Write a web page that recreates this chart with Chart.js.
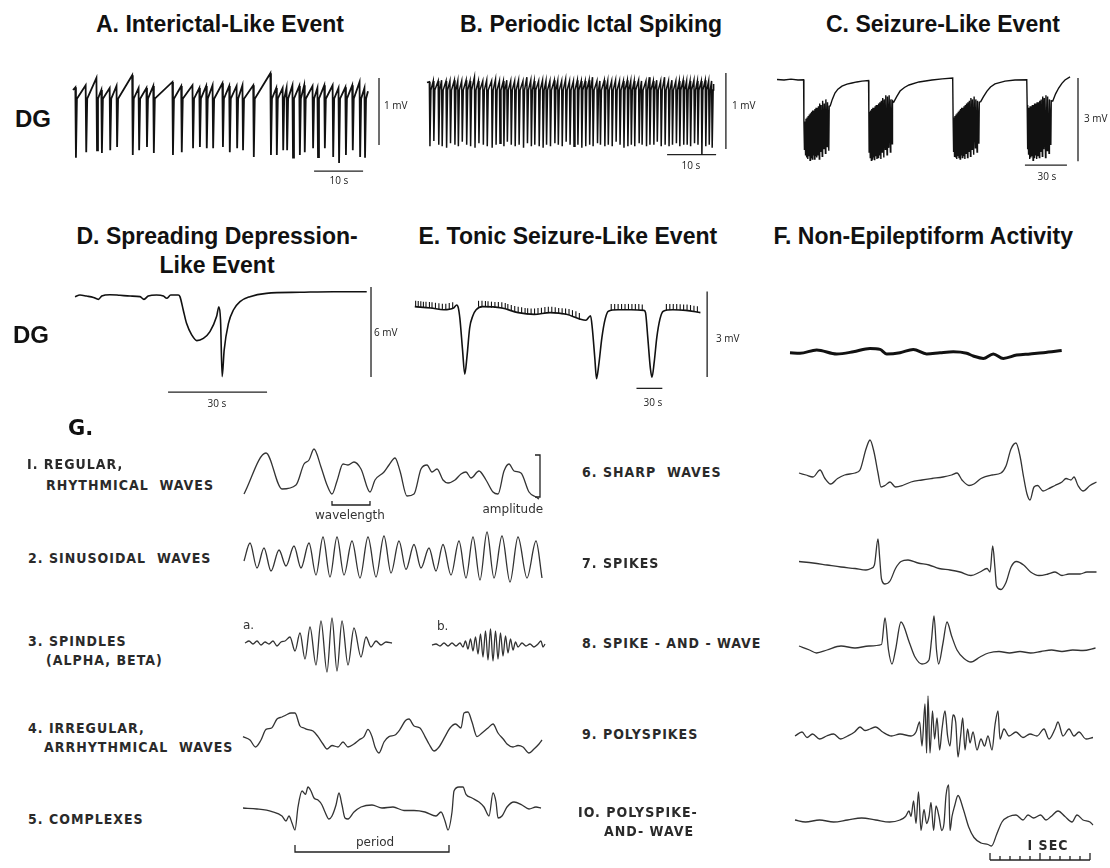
<!DOCTYPE html>
<html>
<head>
<meta charset="utf-8">
<script src="https://cdn.jsdelivr.net/npm/chart.js@4.4.1/dist/chart.umd.min.js"></script>
<style>
  body { margin: 0; background: #fff; width: 1110px; height: 868px; position: relative; overflow: hidden; font-family: "Liberation Sans", Arial, sans-serif; }
  canvas { position: absolute; }
  .t { position: absolute; white-space: pre; line-height: 1; }
  .title { font-weight: bold; font-size: 23px; color: #111; }
  .dg { font-weight: bold; font-size: 24px; color: #111; }
  .gl { font-family: "DejaVu Sans", Verdana, sans-serif; font-weight: bold; font-size: 21px; color: #111; }
  .sb { font-family: "Open Sans", "Liberation Sans", sans-serif; font-size: 10px; color: #222; }
  .gt { font-family: "Liberation Sans Narrow", "DejaVu Sans Condensed", "Liberation Sans", sans-serif; font-weight: bold; font-size: 14px; letter-spacing: 1px; color: #2a2a2a; }
  .ga { font-family: "DejaVu Sans", sans-serif; font-size: 12px; color: #333; }
</style>
</head>
<body>
<script>
// ---------- A. interictal-like event (s, mV) ----------
const aSpikeT = [0.6, 2.7, 4.9, 5.9, 7.6, 9.0, 12.2, 13.5, 15.1, 16.5, 20.4, 22.2, 24.5, 25.9, 27.3, 28.6, 30.6, 32.0, 33.5, 34.7, 36.9, 40.4, 41.6, 42.9, 43.7, 44.9, 46.3, 47.3, 49.0, 50.0, 51.4, 53.1, 54.3, 55.7, 57.1, 58.6, 59.6];
const aSpikeMin = [-1.04, -0.96, -0.93, -0.97, -0.93, -0.88, -1.0, -0.93, -0.88, -0.97, -1.0, -0.96, -0.9, -0.88, -0.9, -0.9, -0.88, -0.96, -0.9, -0.93, -1.03, -1.0, -1.0, -0.93, -0.93, -1.04, -1.0, -0.96, -0.9, -1.03, -0.9, -1.03, -1.12, -1.0, -0.93, -1.03, -1.04];
const aPre = [0.01, 0.04, 0.15, -0.03, 0, 0.03, 0.19, 0, 0, 0.03, 0.09, 0.03, 0.04, 0, 0.03, 0.04, 0.07, 0.03, 0.03, 0.04, 0.04, 0.22, 0, 0, 0, 0.04, 0.03, 0.04, 0.03, 0, 0.04, 0.04, 0, 0.01, 0.04, 0.09, 0];
const aPost = -0.16;

// ---------- B. periodic ictal spiking (s, mV) ----------
const bSpikeT = [0.6, 1.4, 2.4, 3.1, 4.0, 4.8, 5.7, 6.4, 7.2, 8.1, 8.9, 9.8, 10.6, 11.5, 12.3, 13.3, 14.1, 14.9, 15.7, 16.4, 17.2, 18.0, 18.8, 19.7, 20.5, 21.3, 22.0, 22.9, 23.7, 24.4, 25.2, 26.1, 26.8, 27.6, 28.4, 29.2, 30.0, 30.8, 31.6, 32.4, 33.2, 33.9, 34.8, 35.4, 36.3, 37.0, 37.8, 38.6, 39.4, 40.2, 41.0, 41.7, 42.4, 43.3, 43.9, 44.8, 45.5, 46.3, 47.0, 47.8, 48.6, 49.4, 50.1, 50.9, 51.6, 52.4, 53.1, 53.8, 54.6, 55.3, 56.1, 56.9, 57.6, 58.2];
const bSpikeMin = [-0.82, -0.75, -0.8, -0.82, -0.84, -0.78, -0.8, -0.82, -0.76, -0.8, -0.82, -0.84, -0.78, -0.8, -0.82, -0.84, -0.8, -0.78, -0.82, -0.76, -0.8, -0.82, -0.8, -0.84, -0.78, -0.82, -0.8, -0.82, -0.84, -0.8, -0.82, -0.78, -0.8, -0.82, -0.76, -0.8, -0.82, -0.8, -0.84, -0.82, -0.8, -0.82, -0.78, -0.8, -0.82, -0.8, -0.82, -0.76, -0.8, -0.84, -0.82, -0.8, -0.82, -0.78, -0.8, -0.82, -0.8, -0.8, -0.76, -0.82, -0.8, -0.82, -0.8, -0.78, -0.82, -0.8, -0.8, -0.82, -0.78, -0.8, -0.93, -0.82, -0.8, -0.84];
const bPre = [0.03, 0.04, 0.04, 0.05, 0.04, 0.04, 0.05, 0.04, 0.04, 0.05, 0.04, 0.09, 0.04, 0.04, 0.05, 0.04, 0.06, 0.04, 0.04, 0.05, 0.04, 0.04, 0.05, 0.04, 0.09, 0.05, 0.04, 0.04, 0.05, 0.04, 0.04, 0.05, 0.04, 0.04, 0.06, 0.04, 0.04, 0.05, 0.04, 0.04, 0.05, 0.09, 0.04, 0.04, 0.05, 0.04, 0.04, 0.05, 0.04, 0.04, 0.05, 0.04, 0.04, 0.05, 0.04, 0.04, 0.09, 0.04, 0.05, 0.04, 0.09, 0.04, 0.05, 0.04, 0.04, 0.05, 0.04, 0.04, 0.05, 0.04, 0.04, 0.05, 0.04, 0.04];
const bPost = -0.08;

// ---------- C. seizure-like events (s, mV) ----------
const cBaseline = [[0, 0.02], [5, 0], [10, 0.03], [15, 0], [19.0, 0.01]];
const cOnsetT = [19.1, 65.5, 125.7, 178.6];
const cOnsetV = [-1.44, -1.12, -1.37, -0.9];
const cSpikeT = [
  [19.6, 20.4, 21.2, 22.0, 22.8, 23.6, 24.4, 25.2, 26.0, 26.8, 27.6, 28.4, 29.3, 30.2, 31.2, 32.3, 33.5, 34.6, 35.8, 37.0],
  [65.8, 66.6, 67.4, 68.2, 69.0, 69.8, 70.6, 71.4, 72.3, 73.2, 74.2, 75.2, 76.3, 77.4, 78.6, 79.8, 81.0, 82.2],
  [126.0, 126.8, 127.6, 128.4, 129.2, 130.0, 130.8, 131.6, 132.4, 133.3, 134.2, 135.1, 136.1, 137.1, 138.2, 139.3, 140.5, 141.7, 142.9, 144.2],
  [178.9, 179.7, 180.5, 181.3, 182.1, 182.9, 183.7, 184.6, 185.5, 186.4, 187.4, 188.4, 189.5, 190.6, 191.8, 193.0, 194.3, 195.6]
];
const cSpikeMin = [
  [-2.5, -2.7, -2.8, -2.85, -2.75, -2.9, -2.8, -2.85, -2.7, -2.85, -2.75, -2.8, -2.7, -2.85, -2.6, -2.75, -2.5, -2.65, -2.4, -2.55],
  [-2.6, -2.8, -2.9, -2.85, -2.8, -2.9, -2.75, -2.85, -2.8, -2.7, -2.85, -2.6, -2.8, -2.5, -2.7, -2.45, -2.6, -2.3],
  [-2.6, -2.75, -2.8, -2.85, -2.75, -2.8, -2.85, -2.7, -2.8, -2.75, -2.85, -2.65, -2.8, -2.6, -2.75, -2.5, -2.7, -2.45, -2.6, -2.3],
  [-2.5, -2.7, -2.85, -2.8, -2.75, -2.9, -2.8, -2.7, -2.85, -2.75, -2.8, -2.6, -2.75, -2.5, -2.8, -2.55, -2.65, -2.35]
];
const cSpikeTop = [
  [-1.5, -1.4, -1.35, -1.3, -1.25, -1.2, -1.15, -1.1, -1.1, -1.05, -1.0, -1.0, -0.95, -0.85, -0.9, -0.75, -0.85, -0.7, -0.8, -0.95],
  [-1.15, -1.1, -1.05, -1.0, -1.0, -0.95, -0.9, -0.9, -0.85, -0.8, -0.75, -0.65, -0.7, -0.55, -0.6, -0.55, -0.7, -0.75],
  [-1.35, -1.3, -1.25, -1.2, -1.15, -1.1, -1.05, -1.0, -1.0, -0.95, -0.9, -0.85, -0.8, -0.75, -0.65, -0.7, -0.6, -0.7, -0.75, -0.8],
  [-1.0, -1.0, -0.95, -0.95, -0.9, -0.9, -0.85, -0.85, -0.8, -0.8, -0.75, -0.7, -0.6, -0.65, -0.55, -0.6, -0.7, -0.75]
];
const cRecovery = [
  [[38.0, -0.94], [39.5, -0.7], [41.4, -0.47], [43.5, -0.33], [46.4, -0.22], [50, -0.15], [53.6, -0.11], [57, -0.07], [60.7, -0.04], [65.4, -0.02]],
  [[83.4, -0.8], [85.5, -0.6], [87.9, -0.4], [91, -0.27], [94.3, -0.18], [101.4, -0.07], [110.7, 0.0], [118, 0.04], [125.5, 0.07]],
  [[145.5, -0.78], [147.5, -0.6], [150, -0.4], [152.5, -0.25], [155.7, -0.14], [162.9, -0.04], [170, 0.0], [178.4, 0.01]],
  [[197.0, -0.76], [199, -0.5], [201.2, -0.29], [203.5, -0.12], [205.7, 0.0], [209.3, 0.11]]
];

// ---------- D. spreading depression-like event (s, mV) ----------
const dT = [0, 1.5, 3.5, 5.6, 7.1, 8.1, 10.6, 13.6, 16.7, 19.7, 20.9, 22.2, 24.7, 26.8, 27.8, 29, 31.3, 31.8, 32.8, 33.8, 35.4, 36.9, 38.9, 40.9, 42.9, 43.6, 44.1, 44.6, 45.2, 46.5, 48, 50, 53, 58, 68.2, 78.3, 88.4];
const dV = [-0.11, 0, -0.07, -0.16, -0.29, -0.07, 0.02, -0.02, -0.07, -0.11, -0.29, -0.07, 0, -0.07, -0.22, 0, 0, -0.11, -1.0, -1.89, -2.67, -3.04, -2.89, -2.44, -1.44, -0.78, -1.67, -5.44, -3.67, -1.89, -1.0, -0.44, -0.11, 0.11, 0.18, 0.22, 0.22];

// ---------- E. tonic seizure-like event (s, mV) ----------
const eT = [0, 18.7, 33.7, 45, 48.7, 50.6, 52.4, 55.4, 58, 60.7, 63.7, 67.4, 71.2, 78.7, 101, 120, 138.6, 157, 176, 191, 198.5, 204, 206, 209, 210.9, 213.5, 217.2, 221, 224.7, 236, 251, 266, 267.8, 270.4, 273.4, 275.3, 277.9, 280.9, 284.6, 288.4, 299.6, 314.6, 331.5];
const eV = [0.03, -0.02, -0.08, -0.02, 0.09, -0.02, -0.4, -1.48, -2.34, -1.69, -0.72, -0.29, -0.08, 0.03, -0.02, -0.18, -0.24, -0.18, -0.24, -0.4, -0.45, -0.29, -0.72, -1.8, -2.5, -2.02, -1.05, -0.4, -0.13, -0.08, -0.08, -0.1, -0.18, -1.05, -2.13, -2.45, -1.91, -1.05, -0.4, -0.13, -0.08, -0.1, -0.18];
const eTickT = [1, 4, 7, 10, 13, 17, 20, 24, 28, 32, 36, 40, 44, 74, 78, 82, 85, 89, 93, 97, 101, 105, 108, 112, 116, 120, 124, 128, 131, 135, 139, 143, 147, 151, 155, 159, 163, 167, 171, 175, 179, 183, 187, 191, 228, 232, 236, 240, 244, 248, 252, 256, 260, 264, 292, 296, 300, 304, 308, 312, 316, 320, 324, 328];
const eTickV = [0.13, 0.12, 0.11, 0.1, 0.1, 0.09, 0.08, 0.06, 0.04, 0.03, 0.03, 0.05, 0.08, 0.13, 0.13, 0.12, 0.11, 0.1, 0.09, 0.09, 0.08, 0.05, 0.02, -0.02, -0.05, -0.08, -0.1, -0.12, -0.13, -0.14, -0.14, -0.12, -0.11, -0.09, -0.08, -0.08, -0.1, -0.12, -0.13, -0.14, -0.16, -0.2, -0.24, -0.3, 0.02, 0.02, 0.02, 0.02, 0.02, 0.02, 0.02, 0.02, 0.02, 0.0, 0.02, 0.02, 0.02, 0.02, 0.01, 0.0, 0.0, -0.02, -0.04, -0.06];

// ---------- F. non-epileptiform activity (s, mV) ----------
const fT = [0, 10, 26.7, 46.7, 63.3, 80, 90, 96.7, 110, 123.3, 136.7, 150, 163.3, 176.7, 183.3, 193.3, 203.3, 213.3, 226.7, 240, 253.3, 271.7];
const fV = [0, -0.02, 0.09, -0.04, 0.03, 0.14, 0.11, -0.04, 0, 0.11, -0.04, 0, 0.03, -0.02, -0.11, -0.19, -0.04, -0.19, -0.08, -0.04, 0, 0.07];

// ---------- G. EEG patterns (time in 10 ms, amplitude in µV units) ----------
const g1T = [0, 22, 38, 52, 60, 65, 70, 77, 83, 88, 93, 99, 104, 110, 117, 126, 131, 140, 145, 151, 156, 163, 170, 177, 183, 188, 193, 199, 204, 211, 217, 222, 227, 235, 242, 249, 254, 260, 265, 270, 277, 285, 292, 295];
const g1V = [-22, 19, -17, -13, 8, 12, 23, 5, -13, -22, -9, 8, 7, 10, 3, -20, -8, 0, 7, 14, 1, -24, -22, 3, 7, 0, 3, -8, -11, -8, -2, 0, -6, 1, -8, -20, -22, 1, 8, 1, -1, -20, -25, -27];
const g2T = [0, 6, 13, 20, 27, 35, 42, 50, 57, 65, 72, 79, 86, 93, 100, 108, 116, 124, 132, 140, 147, 155, 162, 170, 177, 185, 192, 199, 207, 215, 222, 229, 236, 243, 250, 258, 266, 274, 283, 292, 298];
const g2V = [-4, 14, -11, 9, -14, 7, -9, 11, -11, 14, -18, 20, -20, 20, -18, 16, -21, 20, -20, 21, -16, 16, -12.5, 12.5, -11, 9, -14, 12.5, -18, 16, -21, 20, -23, 25, -21, 21, -25, 20, -21, 16, -21];
const g3aT = [0, 4, 8, 12, 16, 20, 24, 28, 32, 36, 40, 45, 50, 55, 60, 65, 71, 76, 82, 87, 92, 97, 103, 109, 116, 121, 126, 131, 136, 141, 147];
const g3aV = [0, 2, -1, 2, -2, 1, -1, 2, -3, 1, 2, 6, -8, 10, -16, 16, -22, 22, -29, 25, -28, 22, -22, 15, -14, 6, -4, 2, -2, 1, 0];
const g3bT = [0, 4, 8, 12, 16, 20, 24, 28, 31, 33.5, 36, 38.5, 41, 43.5, 46, 48.5, 51, 53.5, 56, 58.5, 61, 63.5, 66, 68.5, 71, 73.5, 76, 78.5, 81, 83.5, 86, 90, 94, 98, 102, 106, 109, 111, 113];
const g3bV = [0, 1, -1, 2, -1, 2, -1, 2, -2, 4, -4, 6, -6, 8, -9, 11, -12, 14, -15, 16, -16, 14, -14, 12, -11, 9, -8, 6, -5, 3, -2, 2, -1, 1, -2, 1, 4, -2, 1];
const g4T = [0, 7, 12.5, 18, 23, 28.6, 34, 39, 43, 48, 52, 57, 61, 64, 70, 75, 80, 84, 89, 95, 100, 105, 111, 116, 121, 125, 129, 132, 136, 141, 146, 152, 157, 162.5, 166, 171, 177, 182, 186, 191, 196, 202, 207, 212.5, 218, 221, 225, 229, 234, 239, 245, 250, 255, 261, 264, 270, 275, 280, 286, 291, 296, 299];
const g4V = [-3.6, -7, -14, -7, 3.6, 5, 14, 16, 18, 20, 20, 7, 5, 3.6, 2, -3.6, -11, -16, -12.5, -14, -9, -14, -11, -7, -3.6, 3.6, -3.6, -14, -20, -9, -3.6, -2, 3.6, 12.5, 14, 7, 5, -3.6, -11, -18, -14, -3.6, 5, 9, 5, 20, 21, 11, -3.6, 0, 5, 9, 0, -7, -11, -14, -12.5, -14, -20, -16, -11, -7];
const g5T = [0, 14, 29, 39, 43, 46, 49, 52, 55, 59, 62.5, 65, 68, 71, 75, 79, 82, 86, 89, 93, 96, 99, 102, 105, 111, 118, 129, 139, 150, 161, 171, 182, 193, 198, 202, 205, 209, 211, 216, 220, 223, 229, 236, 241, 246, 250, 253, 255, 259, 264, 271, 279, 286, 293, 298];
const g5V = [0, -1, -3.6, -8, -13, -8, -15, -22, 1, 17, 13.6, 21, 17, 10, 8, 3, -4, -11, -8, 3, 15, 3, -10, -11, -4, 1, 3, 0, 1, -2.5, -2.5, -4, -8, -4, -13, -22, -4, 17, 21, 21, 13.6, 10, 6, 1, -8, 15, 6, -10, -8, 1, 6, 3, -1, 1, 0];
const g6T = [0, 7, 14, 21, 26, 31.6, 38.6, 45.6, 56, 61, 67, 71, 75, 79, 82, 86, 91, 96.5, 103.5, 112, 123, 133, 144, 152.6, 158, 163, 170, 175, 182, 193, 202, 207, 212, 217, 221, 224.6, 228, 231, 235, 238.6, 244, 249, 256, 263, 267, 272, 275, 279, 284, 291, 297.5];
const g6V = [2, 0, -2, 5, -3.5, -9, -3.5, 0, 2, 5, 26, 35, 23, 2, -12, -10.5, -7, -12, -10.5, -7, -5, -3.5, -2, 0, 2, -5, -10.5, -9, -3.5, 0, 2, 9, 26, 32, 19, -2, -19, -25, -12, -10.5, -16, -14, -10.5, -7, -3.5, -5, -2, -10.5, -16, -10.5, -7];
const g7T = [0, 14, 28, 42, 56, 67, 72, 75.4, 79, 80.7, 82.5, 86, 91, 96.5, 102, 109, 119, 130, 140, 151, 161, 172, 181, 188, 191, 193.7, 196, 197.5, 202, 207, 212, 217.5, 224.6, 231.6, 240, 249, 256, 263, 270, 281, 288, 297.5];
const g7V = [3.5, 2, 0, -2, -3.5, -5, -3.5, 0, 26, 7, -14, -19, -16, -3.5, 3.5, 5, 2, 0, -3.5, -5, -7, -10.5, -7, -3.5, -7, 19, -3.5, -21, -24.5, -17.5, -2, 3.5, 0, -7, -10.5, -9, -7, -10.5, -9, -9, -7, -7];
const g8T = [0, 10.5, 17.5, 28, 42, 56, 70, 82.5, 86, 89.5, 93, 96.5, 102, 110.5, 116, 123, 130, 132.6, 135, 137.5, 139.6, 144, 148, 152.6, 158, 165, 172, 181, 189.5, 200, 210.5, 221, 231.6, 242, 252.6, 263, 273.7, 284, 296.5];
const g8V = [2, -2, -5, -2, 2, 0, 2, 3.5, 30, -2, -16, -2, 26, 5, -9, -16, -12, 9, 32, -2, -16, 5, 26, 12, -2, -10.5, -14, -9, -5, -3.5, -5, -3.5, -5, -3.5, -2, -3.5, -2, -2.5, 0];
const g9T = [0, 7, 12, 17.5, 24.6, 31.6, 38.6, 45.6, 52.6, 59.6, 65, 70, 75, 80.7, 87.7, 96.5, 105, 116, 121, 124.6, 127, 130, 131.6, 133, 135, 137.5, 139.6, 142, 144.6, 147, 150, 152.6, 155, 158, 160.7, 163, 165.6, 167.7, 170, 172.6, 175, 178, 182, 186, 189.5, 193, 197, 200, 203, 205, 209, 214, 221, 228, 235, 242, 249, 254, 260, 263, 268, 274, 279, 284, 291, 298];
const g9V = [-2, 2, -3.5, 0, -5, -2, 0, -5, -2, 2, 7, 3.5, 5, 7, 2, -2, 0, -2, 2, 12, -12, 30, -19, 38, -19, 23, -5, 16, -16, 5, 23, -2, -12, 19, 12, -23, -2, 16, -16, 5, -9, 2, -16, -5, -12, -2, -16, 9, 23, -5, 5, -2, 2, -3.5, 0, -2, 5, -5, 5, 12, -2, 5, -2, 2, -5, -3.5];
const g10T = [0, 10.5, 24.6, 38.6, 52.6, 66.7, 80.7, 94.7, 105, 110.5, 114, 116, 118.6, 121, 123.5, 126, 129, 131.6, 134, 136, 138.6, 141, 144, 146.7, 149, 151, 153.7, 155, 157, 159.6, 163, 168.4, 173.7, 179, 186, 193, 196.5, 201.8, 207, 214, 221, 228, 233, 238.6, 245.6, 251, 256, 263, 270, 277, 282, 288, 295, 298];
const g10V = [0, -2, 0, -2, 0, 2, 0, -2, 0, 3.5, 9, 3.5, 19, -3.5, 28, -10.5, 10.5, -3.5, 3.5, 17.5, -10.5, 14, 3.5, -10.5, -3.5, 24.5, 35, -10.5, 3.5, 14, 24.5, 10.5, -7, -17.5, -23, -24.5, -26, -14, -2, 3.5, 5, 0, 5, 2, 5, 0, 3.5, 9, 3.5, -2, 5, 0, -2, -5];

// scale bar sizes and reference marks
const barMv = { A: 1, B: 1, C: 3, D: 6, E: 3 };
const barSec = { A: 10, B: 10, C: 30, D: 30, E: 30 };
const wavelengthSpan = [88, 126];
const amplitudeSpan = [-25, 17];
const periodSpan = [52, 206];
const rulerSeconds = 1, rulerDivisions = 10;

// ---------- helpers ----------
const series = (T, V) => T.map((t, i) => ({ x: t, y: V[i] }));
const line = (pts, w, col, extra) => Object.assign({
  data: pts, borderColor: col || '#111', borderWidth: w || 1.3,
  pointRadius: 0, tension: 0, fill: false
}, extra || {});
const seg = pts => line(pts.map(([x, y]) => ({ x, y })), 1.3, '#222');

function spikeTrain(spikeT, spikeMin, pre, post, startV, endT, endV) {
  const pts = [{ x: 0, y: startV }];
  spikeT.forEach((t, i) => {
    pts.push({ x: t - 0.12, y: pre[i] });
    pts.push({ x: t, y: spikeMin[i] });
    pts.push({ x: t + 0.2, y: post });
  });
  pts.push({ x: endT, y: endV });
  return pts;
}

function seizureTrace() {
  const pts = cBaseline.map(([t, v]) => ({ x: t, y: v }));
  cOnsetT.forEach((t0, k) => {
    pts.push({ x: t0 + 0.1, y: cOnsetV[k] });
    cSpikeT[k].forEach((t, i) => {
      pts.push({ x: t, y: cSpikeMin[k][i] });
      pts.push({ x: t + 0.3, y: cSpikeTop[k][i] });
    });
    cRecovery[k].forEach(([t, v]) => pts.push({ x: t, y: v }));
  });
  return pts;
}

// box: [left, top, width, height] on the page; map: [x of t=0, px per t, y of v=0, px per v]
function panel(box, map, datasets) {
  const [L, T, W, H] = box, [x0, sx, y0, sy] = map;
  const c = document.createElement('canvas');
  c.width = W; c.height = H;
  c.style.left = L + 'px'; c.style.top = T + 'px';
  c.style.width = W + 'px'; c.style.height = H + 'px';
  document.body.appendChild(c);
  new Chart(c.getContext('2d'), {
    type: 'line',
    data: { datasets },
    options: {
      responsive: false, animation: false, events: [],
      layout: { padding: 0 },
      plugins: { legend: { display: false }, tooltip: { enabled: false } },
      scales: {
        x: { type: 'linear', display: false, min: (L - x0) / sx, max: (L + W - x0) / sx },
        y: { type: 'linear', display: false, min: (y0 - T - H) / sy, max: (y0 - T) / sy }
      }
    }
  });
}

// vertical mV bar at time bx from top v, horizontal seconds bar at level by from time bt
const scaleBars = (bx, top, mv, bt, by, sec) => [
  seg([[bx, top], [bx, top - mv]]),
  seg([[bt, by], [bt + sec, by]])
];

// ---------- panels A-F ----------
panel([60, 55, 345, 135], [73, 4.9, 88, 67], [
  line(spikeTrain(aSpikeT, aSpikeMin, aPre, aPost, -0.03, 60.2, -0.05), 1.8),
  ...scaleBars(62.45, 0.15, barMv.A, 49.2, -1.24, barSec.A)
]);
panel([415, 55, 320, 120], [427, 4.9, 84, 76], [
  line(spikeTrain(bSpikeT, bSpikeMin, bPre, bPost, 0.02, 58.5, 0.0), 1.5),
  ...scaleBars(61.0, 0.145, barMv.B, 49.0, -0.93, barSec.B)
]);
panel([770, 55, 320, 125], [777, 1.4, 80, 27.7], [
  line(seizureTrace(), 1.4),
  ...scaleBars(215, 0.07, barMv.C, 177.1, -3.07, barSec.C)
]);
panel([65, 280, 320, 130], [75, 3.3, 295, 15], [
  line(series(dT, dV), 1.6, '#111', { cubicInterpolationMode: 'monotone' }),
  ...scaleBars(89.7, 0.53, barMv.D, 28.2, -6.47, barSec.D)
]);
panel([400, 280, 320, 130], [410, 0.89, 304.3, 30.9], [
  line(series(eT, eV), 1.6, '#111', { cubicInterpolationMode: 'monotone' }),
  line(series(eTickT, eTickV), 1, '#111', { showLine: false, pointStyle: 'line', pointRotation: 90, pointRadius: 3, pointBorderWidth: 1.1 }),
  ...scaleBars(339.3, 0.56, barMv.E, 257.3, -2.84, barSec.E)
]);
panel([780, 330, 300, 50], [790, 1, 352.7, 30], [
  line(series(fT, fV), 3, '#111', { cubicInterpolationMode: 'monotone' })
]);

// ---------- panel G ----------
const eeg = (T, V) => line(series(T, V), 1.3, '#333', { cubicInterpolationMode: 'monotone' });
panel([236, 425, 320, 95], [244, 1, 472, 1], [
  eeg(g1T, g1V),
  seg([[291, amplitudeSpan[1]], [296, amplitudeSpan[1]], [296, amplitudeSpan[0]], [291, amplitudeSpan[0]]]),
  seg([[wavelengthSpan[0], -29], [wavelengthSpan[0], -33], [wavelengthSpan[1], -33], [wavelengthSpan[1], -29]])
]);
panel([236, 512, 320, 90], [244, 1, 557, 1], [eeg(g2T, g2V)]);
panel([236, 598, 200, 90], [245, 1, 643, 1], [eeg(g3aT, g3aV)]);
panel([425, 598, 130, 90], [432, 1, 645, 1], [eeg(g3bT, g3bV)]);
panel([236, 688, 320, 90], [243, 1, 733, 1], [eeg(g4T, g4V)]);
panel([236, 763, 320, 100], [243, 1, 808, 1], [
  eeg(g5T, g5V),
  seg([[periodSpan[0], -37], [periodSpan[0], -44], [periodSpan[1], -44], [periodSpan[1], -37]])
]);
panel([790, 425, 315, 90], [799, 1, 475, 1], [eeg(g6T, g6V)]);
panel([790, 520, 315, 90], [799, 1, 565, 1], [eeg(g7T, g7V)]);
panel([790, 603, 315, 90], [799, 1, 648, 1], [eeg(g8T, g8V)]);
panel([790, 689, 315, 90], [795, 1, 734, 1], [eeg(g9T, g9V)]);

const rulerStart = 195, rulerLen = rulerSeconds * 100;
const ruler = [seg([[rulerStart, -40], [rulerStart + rulerLen, -40]])];
for (let i = 0; i <= rulerDivisions; i++) {
  const tx = rulerStart + i * rulerLen / rulerDivisions;
  const h = (i === 0 || i === rulerDivisions || i === rulerDivisions / 2) ? 7 : 4;
  ruler.push(seg([[tx, -40], [tx, -40 + h]]));
}
panel([790, 775, 315, 93], [795, 1, 820, 1], [eeg(g10T, g10V), ...ruler]);

// ---------- text ----------
const labels = [
  ['A. Interictal-Like Event', 220, 24, 'title', 'c'],
  ['B. Periodic Ictal Spiking', 591, 24, 'title', 'c'],
  ['C. Seizure-Like Event', 943, 24, 'title', 'c'],
  ['D. Spreading Depression-', 217, 236, 'title', 'c'],
  ['Like Event', 217, 265, 'title', 'c'],
  ['E. Tonic Seizure-Like Event', 568, 236, 'title', 'c'],
  ['F. Non-Epileptiform Activity', 923, 236, 'title', 'c'],
  ['DG', 15, 119, 'dg', 'l'],
  ['DG', 13, 335, 'dg', 'l'],
  ['G.', 68, 428, 'gl', 'l'],
  ['1 mV', 384, 105, 'sb', 'l'],
  ['10 s', 339, 180, 'sb', 'c'],
  ['1 mV', 732, 105, 'sb', 'l'],
  ['10 s', 691, 165, 'sb', 'c'],
  ['3 mV', 1084, 118, 'sb', 'l'],
  ['30 s', 1047, 176, 'sb', 'c'],
  ['6 mV', 374, 332, 'sb', 'l'],
  ['30 s', 217, 403, 'sb', 'c'],
  ['3 mV', 716, 338, 'sb', 'l'],
  ['30 s', 653, 402, 'sb', 'c'],
  ['I. REGULAR,', 27, 464, 'gt', 'l'],
  ['RHYTHMICAL  WAVES', 46, 485, 'gt', 'l'],
  ['2. SINUSOIDAL  WAVES', 28, 558, 'gt', 'l'],
  ['3. SPINDLES', 28, 641, 'gt', 'l'],
  ['(ALPHA, BETA)', 46, 660, 'gt', 'l'],
  ['4. IRREGULAR,', 28, 728, 'gt', 'l'],
  ['ARRHYTHMICAL  WAVES', 44, 747, 'gt', 'l'],
  ['5. COMPLEXES', 28, 819, 'gt', 'l'],
  ['6. SHARP  WAVES', 582, 472, 'gt', 'l'],
  ['7. SPIKES', 582, 563, 'gt', 'l'],
  ['8. SPIKE - AND - WAVE', 582, 643, 'gt', 'l'],
  ['9. POLYSPIKES', 582, 734, 'gt', 'l'],
  ['IO. POLYSPIKE-', 578, 812, 'gt', 'l'],
  ['AND- WAVE', 604, 831, 'gt', 'l'],
  ['wavelength', 350, 515, 'ga', 'c'],
  ['amplitude', 513, 509, 'ga', 'c'],
  ['a.', 243, 625, 'ga', 'l'],
  ['b.', 437, 626, 'ga', 'l'],
  ['period', 375, 842, 'ga', 'c'],
  ['I SEC', 1048, 845, 'gt', 'c']
];
labels.forEach(([text, x, cy, cls, align]) => {
  const d = document.createElement('div');
  d.className = 't ' + cls;
  d.textContent = text;
  document.body.appendChild(d);
  const h = d.offsetHeight;
  d.style.top = (cy - h / 2) + 'px';
  d.style.left = (align === 'c' ? x - d.offsetWidth / 2 : x) + 'px';
});
</script>
</body>
</html>
